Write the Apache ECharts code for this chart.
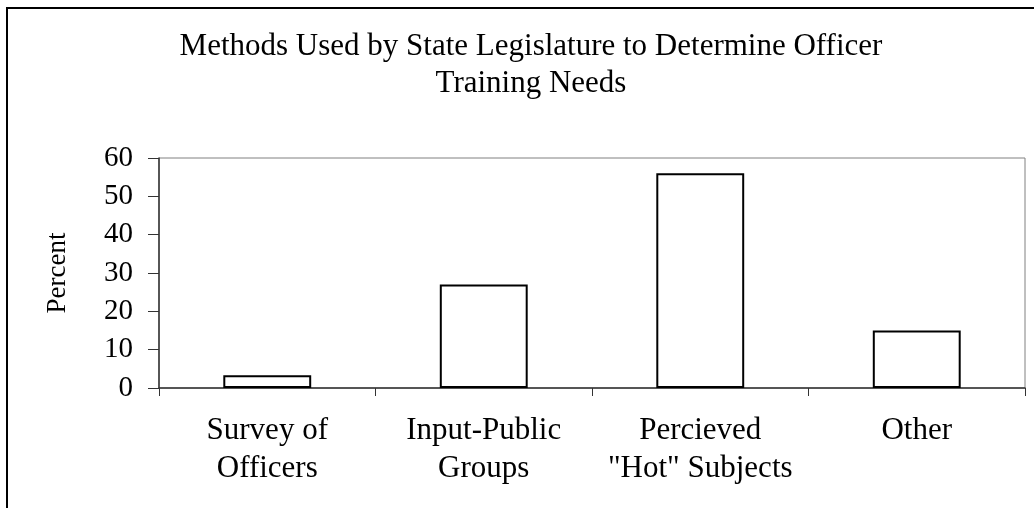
<!DOCTYPE html>
<html>
<head>
<meta charset="utf-8">
<script src="https://cdn.jsdelivr.net/npm/echarts@6/dist/echarts.min.js"></script>
<style>
html,body{margin:0;padding:0;background:#fff;}
#chart{width:1034px;height:508px;}
</style>
</head>
<body>
<div id="chart"></div>
<script>
var titleLines = ['Methods Used by State Legislature to Determine Officer', 'Training Needs'];
var categories = ['Survey of\nOfficers', 'Input-Public\nGroups', 'Percieved\n"Hot" Subjects', 'Other'];
var percentValues = [3.3, 27, 56, 15];
var yAxisName = 'Percent';
var yMin = 0, yMax = 60, yStep = 10;

var FONT = '"Liberation Serif", "Times New Roman", serif';
var chart = echarts.init(document.getElementById('chart'), null, {renderer: 'canvas'});
chart.setOption({
  animation: false,
  backgroundColor: '#fff',
  graphic: [{
    type: 'rect', z: -10, silent: true,
    shape: {x: 7, y: 8, width: 1200, height: 700},
    style: {fill: 'none', stroke: '#000', lineWidth: 2}
  }],
  title: {
    text: titleLines.join('\n'),
    left: 526, top: 23, textAlign: 'center',
    textStyle: {fontFamily: FONT, fontSize: 31, fontWeight: 'normal', color: '#000', lineHeight: 37}
  },
  grid: {left: 159, right: 9, top: 158, bottom: 120, show: true, borderColor: '#808080', borderWidth: 1, backgroundColor: 'transparent'},
  xAxis: {
    type: 'category', data: categories,
    axisLine: {show: true, lineStyle: {color: '#333', width: 1.5}},
    axisTick: {show: true, length: 8, alignWithLabel: false, lineStyle: {color: '#333', width: 1}},
    axisLabel: {interval: 0, margin: 24, fontFamily: FONT, fontSize: 31, color: '#000', lineHeight: 38}
  },
  yAxis: {
    type: 'value', min: yMin, max: yMax, interval: yStep,
    name: yAxisName, nameLocation: 'middle', nameRotate: 90, nameGap: 88,
    nameTextStyle: {fontFamily: FONT, fontSize: 27, color: '#000'},
    axisLine: {show: true, lineStyle: {color: '#333', width: 1.5}},
    axisTick: {show: true, length: 11, lineStyle: {color: '#333', width: 1}},
    axisLabel: {margin: 26, fontFamily: FONT, fontSize: 29, color: '#000'},
    splitLine: {show: false}
  },
  series: [{
    type: 'bar', data: percentValues, barWidth: '40.6%',
    itemStyle: {color: '#fff', borderColor: '#000', borderWidth: 2}
  }]
});
</script>
</body>
</html>
